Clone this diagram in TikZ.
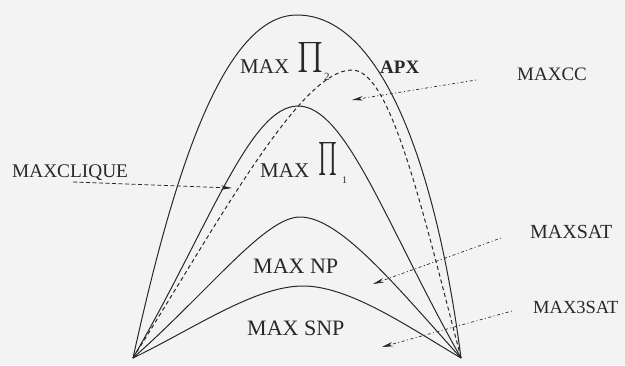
\documentclass[tikz,border=0pt]{standalone}
\usepackage{fontspec}
\setmainfont{Liberation Serif}
\usetikzlibrary{arrows.meta}
\definecolor{bg}{RGB}{243,243,243}
\definecolor{ink}{RGB}{40,40,40}
\begin{document}
\begin{tikzpicture}[x=1pt,y=-1pt,
  curve/.style={ink, line width=1pt},
  apx/.style={ink, line width=1pt, dash pattern=on 4pt off 3pt},
  lbl/.style={ink, inner sep=0pt, anchor=base west},
  tipstyle/.style={-{Stealth[length=11pt,width=4.5pt]}},
  dotptr/.style={ink, line width=0.7pt, tipstyle, dash pattern=on 1pt off 2.5pt on 3pt off 2.5pt},
  dashptr/.style={ink, line width=0.8pt, tipstyle, dash pattern=on 4pt off 2.5pt},
  pisym/.style={ink, inner sep=0pt, anchor=south west}
]
\fill[bg] (0,0) rectangle (625,365);
\useasboundingbox (0,0) rectangle (625,365);

% corners and peaks
\coordinate (L) at (133,358);
\coordinate (R) at (461,358);
\coordinate (p2) at (297,15);
\coordinate (p1) at (298,106);
\coordinate (pa) at (352,70);
\coordinate (pn) at (300,217);
\coordinate (ps) at (303,286);

% curves
\draw[curve] (L) .. controls (170,190) and (220,15) .. (p2)
                 .. controls (390,15) and (440,195) .. (R);
\draw[apx] (L) .. controls (220,220) and (300,70) .. (pa)
               .. controls (390,70) and (420,200) .. (R);
\draw[curve] (L) .. controls (210,225) and (250,106) .. (p1)
                 .. controls (346,106) and (386,225) .. (R);
\draw[curve] (L) .. controls (210,290) and (265,217) .. (pn)
                 .. controls (340,217) and (395,285) .. (R);
\draw[curve] (L) .. controls (195,328) and (255,286) .. (ps)
                 .. controls (350,286) and (410,328) .. (R);

% inner labels
\node[lbl, font=\fontsize{21}{22}\selectfont] (max2) at (240,73) {MAX};
\node[pisym] (pi2) at (297,73) {\resizebox*{26pt}{30pt}{$\prod$}};
\node[lbl, font=\fontsize{11}{12}\selectfont] (sub2) at (324,80) {2};
\node[lbl, font=\bfseries\fontsize{19}{20}\selectfont] (apxl) at (380,73) {APX};

\node[lbl, font=\fontsize{21}{22}\selectfont] (max1) at (260,177) {MAX};
\node[pisym] (pi1) at (318,176) {\resizebox*{19pt}{33pt}{$\prod$}};
\node[lbl, font=\fontsize{10}{11}\selectfont] (sub1) at (342,183) {1};

\node[lbl, font=\fontsize{22}{23}\selectfont] (np) at (253,273) {MAX NP};
\node[lbl, font=\fontsize{22}{23}\selectfont] (snp) at (247,335) {MAX SNP};

% outer labels
\node[lbl, font=\fontsize{19.3}{20}\selectfont] (clique) at (12,177) {MAXCLIQUE};
\node[lbl, font=\fontsize{19}{20}\selectfont] (cc) at (517,80) {MAXCC};
\node[lbl, font=\fontsize{20}{21}\selectfont] (sat) at (530,238) {MAXSAT};
\node[lbl, font=\fontsize{18.5}{20}\selectfont] (sat3) at (533,313) {MAX3SAT};

% pointer ends
\coordinate (cliqS) at (73,182);
\coordinate (cliqT) at (232,188);
\coordinate (ccS) at (476,80);
\coordinate (ccT) at (352,100);
\coordinate (satS) at (501,238);
\coordinate (satT) at (373,284);
\coordinate (sat3S) at (512,311);
\coordinate (sat3T) at (382,347);

\draw[dashptr] (cliqS) -- (cliqT);
\draw[dotptr] (ccS) -- (ccT);
\draw[dotptr] (satS) -- (satT);
\draw[dotptr] (sat3S) -- (sat3T);
\end{tikzpicture}
\end{document}
